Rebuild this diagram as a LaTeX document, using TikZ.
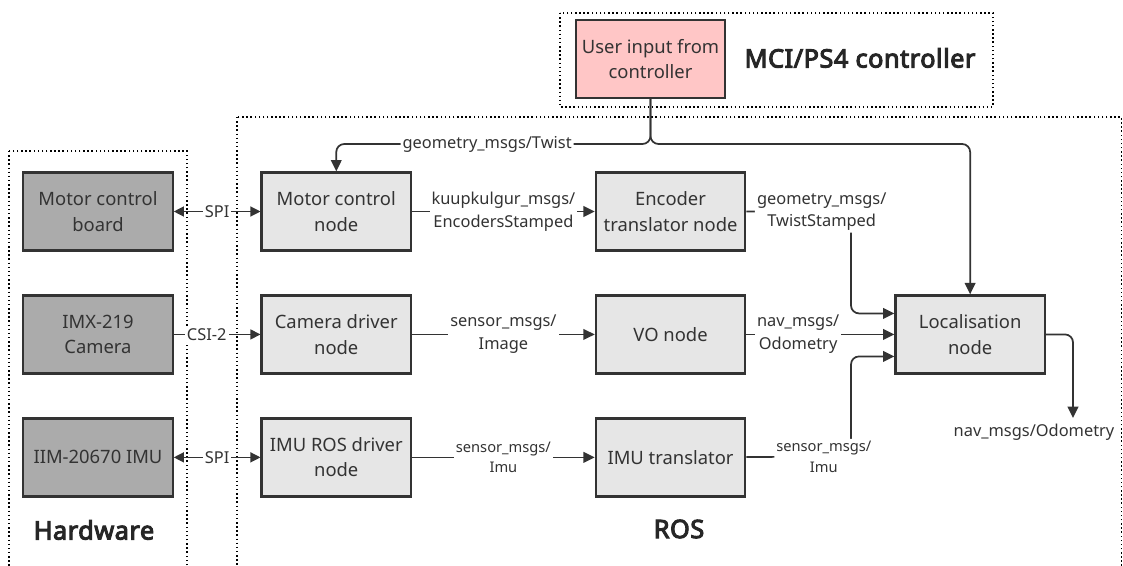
\documentclass[tikz,border=0pt]{standalone}
\usepackage{fontspec}
\setmainfont{Noto Sans}
\newfontfamily\headfont{Noto Sans}[FakeBold=4,LetterSpace=2]
\usetikzlibrary{calc, positioning, arrows.meta}
\definecolor{ink}{HTML}{333333}
\definecolor{rosfill}{HTML}{E6E6E6}
\definecolor{hwfill}{HTML}{ABABAB}
\definecolor{userfill}{HTML}{FFC6C6}
\tikzstyle{ros-node}=[
rectangle,
draw=ink,
fill=rosfill,
line width=1.7pt,
minimum width=112pt,
minimum height=58.5pt,
align=center,
font=\fontsize{13.8}{19}\selectfont,
]
\tikzstyle{msg}=[
fill=white,
align=center,
inner sep=1.5pt,
font=\fontsize{12.3}{17}\selectfont,
]
\tikzstyle{small-msg}=[msg, font=\fontsize{11}{15.5}\selectfont]
\tikzstyle{title}=[font=\headfont\fontsize{19}{23}\selectfont, text=black!85]
\tikzstyle{group}=[draw=black, dotted, line width=1.1pt]
\tikzstyle{hw-link}=[line width=0.9pt, >={Triangle[length=7.5pt,width=7.5pt]}]

\begin{document}
\begin{tikzpicture}
        [x=0.75pt, y=0.75pt, color=ink, line width=1.3pt,
         >={Triangle[length=8.5pt,width=8pt]}]
        \useasboundingbox (0,0) rectangle (1123,565);

        \draw[group] (9,414) rectangle (187,-10);
        \draw[group] (237,448) rectangle (1121.5,-10);
        \draw[group] (560,552) rectangle (993,458);

        \begin{scope}[every node/.style={ros-node, fill=hwfill}]
          \node (mcb) at (98,353.5) {Motor control\\board};
          \node[below=32pt of mcb] (cam) {IMX-219\\Camera};
          \node[below=32pt of cam] (imu) {IIM-20670 IMU};
        \end{scope}

        \begin{scope}[every node/.style=ros-node]
          \node[right=65pt of mcb] (mcn) {Motor control\\node};
          \node[right=65pt of cam] (cd) {Camera driver\\node};
          \node[right=65pt of imu] (ird) {IMU ROS driver\\node};
          \node[right=137pt of mcn] (enc) {Encoder\\translator node};
          \node[right=137pt of cd] (vo) {VO node};
          \node[right=137pt of ird] (imt) {IMU translator};
          \node[right=111pt of vo] (loc) {Localisation\\node};
          \node[fill=userfill] (usr) at (650.5,506) {User input from\\controller};
        \end{scope}

        \node[title] (hwt) at (94,35) {Hardware};
        \node[title] (rost) at (679,36) {ROS};
        \node[title] (mcit) at (860,507) {MCI/PS4 controller};

        \draw[hw-link, <->] (mcb) -- node[msg]{SPI} (mcn);
        \draw[hw-link, ->] (cam) -- node[msg, pos=0.38]{CSI-2} (cd);
        \draw[hw-link, <->] (imu) -- node[msg]{SPI} (ird);

        \draw[->] (mcn) -- node[msg]{kuupkulgur\_msgs/\\EncodersStamped} (enc);
        \draw[->] (cd) -- node[msg]{sensor\_msgs/\\Image} (vo);
        \draw[->] (vo) -- node[msg, pos=0.35]{nav\_msgs/\\Odometry} (loc);
        \draw[->] (ird) -- node[small-msg]{sensor\_msgs/\\Imu} (imt);

        \coordinate (tsb) at (851,353.5);
        \coordinate (imb) at (851,108.5);
        \draw[->, rounded corners=6pt] (enc) -- node[msg, pos=0.72]{geometry\_msgs/\\TwistStamped} (tsb) |- ($(loc.west)+(0,21)$);
        \draw[->, rounded corners=6pt] (imt) -- node[small-msg, pos=0.74]{sensor\_msgs/\\Imu} (imb) |- ($(loc.west)+(0,-22)$);

        \coordinate (tw) at (650.5,421);
        \draw[->, rounded corners=6pt] (usr) -- (tw) -| node[msg, pos=0.26]{geometry\_msgs/Twist} (mcn.north);
        \draw[->, rounded corners=6pt] (usr) -- (tw) -| (loc.north);

        \node[msg, fill=none] (odo) at (1034,133) {nav\_msgs/Odometry};
        \coordinate (ot) at (1073,147);
        \draw[->, rounded corners=6pt] (loc.east) -| (ot);
      \end{tikzpicture}
\end{document}
